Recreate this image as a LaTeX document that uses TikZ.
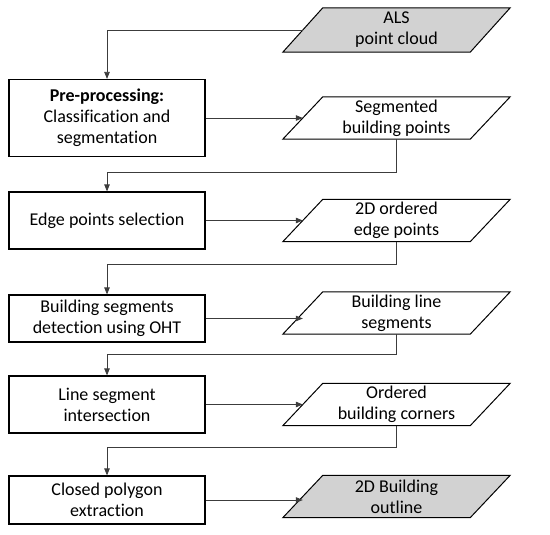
\documentclass[tikz,border=0pt]{standalone}
\usepackage{fontspec}
\setmainfont{Carlito}[Ligatures=NoCommon]
\usepackage{xcolor}
\definecolor{inputgray}{HTML}{D2D2D2}
\definecolor{linkgray}{HTML}{3C3C3C}
\usetikzlibrary{arrows.meta,calc,backgrounds}

\begin{document}
\begin{tikzpicture}[x=1pt, y=-1pt, >={Triangle[length=7pt,width=5.5pt]},
    procbox/.style={draw, line width=1.2pt, minimum width=196pt, align=center,
        inner sep=0pt, font=\fontsize{18}{21}\selectfont},
    databox/.style={minimum width=187pt, minimum height=42pt, align=center,
        inner sep=0pt, font=\fontsize{18}{21}\selectfont},
    link/.style={->, linkgray, line width=0.8pt}]
    \useasboundingbox (0,0) rectangle (550,535);
    \def\slant{20}

    % Processing steps
    \node[procbox, minimum height=77pt] (pre) at (107,118) {\textbf{Pre-processing:}\\Classification and\\segmentation};
    \node[procbox, minimum height=57pt] (edge) at (107,220.5) {Edge points selection};
    \node[procbox, minimum height=47pt] (oht) at (107,318.5) {Building segments\\detection using OHT};
    \node[procbox, minimum height=57pt] (inter) at (107,404.5) {Line segment\\intersection};
    \node[procbox, minimum height=48pt] (poly) at (107,500) {Closed polygon\\extraction};

    % Data in and out
    \node[databox, minimum height=44pt] (als) at (396.5,30) {ALS\\point cloud};
    \node[databox] (seg) at (396.5,118) {Segmented\\building points};
    \node[databox] (ordered) at (396.5,220.5) {2D ordered\\edge points};
    \node[databox] (lines) at (396.5,313) {Building line\\segments};
    \node[databox] (corners) at (396.5,404.5) {Ordered\\building corners};
    \node[databox] (outline) at (396.5,496.5) {2D Building\\outline};

    % Slanted outlines behind the data nodes
    \begin{pgfonlayer}{background}
        \foreach \n/\c in {als/inputgray, seg/white, ordered/white, lines/white, corners/white, outline/inputgray}
            \draw[line width=1pt, fill=\c] ($(\n.south west)+(-\slant,0)$) -- ($(\n.south east)+(-\slant,0)$)
                -- ($(\n.north east)+(\slant,0)$) -- ($(\n.north west)+(\slant,0)$) -- cycle;
    \end{pgfonlayer}

    % Links
    \draw[link] (als.west) -| (pre.north);
    \draw[link] (pre.east) -- (seg.west);
    \draw[link] (seg.south) -- ++(0,33.5) -| (edge.north);
    \draw[link] (edge.east) -- (ordered.west);
    \draw[link] (ordered.south) -- ++(0,23) -| (oht.north);
    \draw[link] (oht.east) -- (oht.east -| lines.west);
    \draw[link] (lines.south) -- ++(0,20) -| (inter.north);
    \draw[link] (inter.east) -- (corners.west);
    \draw[link] (corners.south) -- ++(0,22) -| (poly.north);
    \draw[link] (poly.east) -- (poly.east -| outline.west);
\end{tikzpicture}
\end{document}
